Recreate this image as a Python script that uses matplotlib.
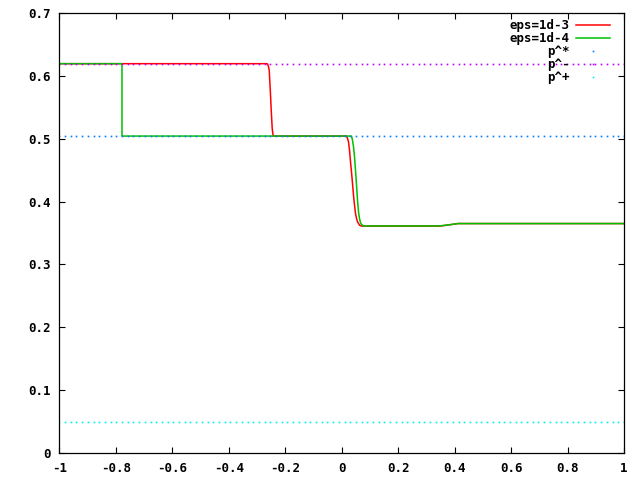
import numpy as np
import matplotlib
matplotlib.use("Agg")
import matplotlib.pyplot as plt
from matplotlib.lines import Line2D

# eps=1d-3 (red)
x_red = [-1.0, -0.2636, -0.2601, -0.2565, -0.2530, -0.2494, -0.2459, -0.2424,
         0.0172, 0.0208, 0.0243, 0.0279, 0.0314, 0.0349, 0.0385, 0.0420, 0.0456,
         0.0491, 0.0527, 0.0562, 0.0597, 0.0633, 0.0704, 0.342, 0.357, 0.381, 0.412, 1.0]
y_red = [0.619, 0.619, 0.6163, 0.6084, 0.5794, 0.5449, 0.5159, 0.5040,
         0.5040, 0.5005, 0.4946, 0.4814, 0.4629, 0.4470, 0.4286, 0.4100, 0.3941,
         0.3810, 0.3730, 0.3677, 0.3651, 0.3624, 0.3610, 0.3610, 0.3615, 0.3630, 0.3650, 0.3650]

# eps=1d-4 (green)
x_green = [-1.0, -0.778, -0.778, 0.0349, 0.0385, 0.0420, 0.0456, 0.0491, 0.0527,
           0.0562, 0.0597, 0.0633, 0.0668, 0.0704, 0.0775, 0.345, 0.381, 0.412, 1.0]
y_green = [0.619, 0.619, 0.504, 0.504, 0.4973, 0.4867, 0.4709, 0.4497, 0.4259,
           0.4021, 0.3836, 0.3730, 0.3661, 0.3635, 0.3612, 0.3612, 0.3630, 0.3650, 0.3650]

p_star = 0.504
p_minus = 0.619
p_plus = 0.049

x_ticks = [-1, -0.8, -0.6, -0.4, -0.2, 0, 0.2, 0.4, 0.6, 0.8, 1]
x_labels = ["-1", "-0.8", "-0.6", "-0.4", "-0.2", "0", "0.2", "0.4", "0.6", "0.8", "1"]
y_ticks = [0, 0.1, 0.2, 0.3, 0.4, 0.5, 0.6, 0.7]
y_labels = ["0", "0.1", "0.2", "0.3", "0.4", "0.5", "0.6", "0.7"]

C_RED = "#ff0000"
C_GREEN = "#00c000"
C_BLUE = "#0080ff"
C_MAG = "#c000ff"
C_CYAN = "#00eeee"

font = dict(family="DejaVu Sans Mono", weight="bold", size=9)

fig = plt.figure(figsize=(6.4, 4.8), dpi=100)
ax = fig.add_axes([59.3 / 640, 1 - 453.3 / 480, (624 - 59.3) / 640, (453.3 - 12.7) / 480])

ax.plot(x_red, y_red, color=C_RED, lw=1.1, label="eps=1d-3")
ax.plot(x_green, y_green, color=C_GREEN, lw=1.1, label="eps=1d-4")

xs = np.linspace(-1, 1, 100)
for val, col, lab in [(p_star, C_BLUE, "p^*"), (p_minus, C_MAG, "p^-"), (p_plus, C_CYAN, "p^+")]:
    ax.plot(xs, np.full_like(xs, val), linestyle="none", marker="s", ms=1.2, mew=0,
            color=col, label=lab)

ax.set_xlim(-1, 1)
ax.set_ylim(0, 0.7)
ax.set_xticks(x_ticks)
ax.set_xticklabels(x_labels, fontdict=font)
ax.set_yticks(y_ticks)
ax.set_yticklabels(y_labels, fontdict=font)
ax.tick_params(direction="in", length=4, width=0.8, top=True, right=True, pad=6, color="black")
for s in ax.spines.values():
    s.set_linewidth(0.9)
    s.set_color("black")

handles = [
    Line2D([], [], color=C_RED, lw=1.1),
    Line2D([], [], color=C_GREEN, lw=1.1),
    Line2D([], [], color=C_BLUE, linestyle="none", marker="s", ms=1.2, mew=0),
    Line2D([], [], color=C_MAG, linestyle="none", marker="s", ms=1.2, mew=0),
    Line2D([], [], color=C_CYAN, linestyle="none", marker="s", ms=1.2, mew=0),
]
labels = ["eps=1d-3", "eps=1d-4", "p^*", "p^-", "p^+"]
leg = ax.legend(handles, labels, loc="upper right", bbox_to_anchor=(0.99, 1.005),
                frameon=False, markerfirst=False, handlelength=2.7, handletextpad=0.5,
                labelspacing=0.0, borderaxespad=0.3,
                prop=dict(family="DejaVu Sans Mono", weight="bold", size=9))

fig.savefig("out.png", dpi=100)
